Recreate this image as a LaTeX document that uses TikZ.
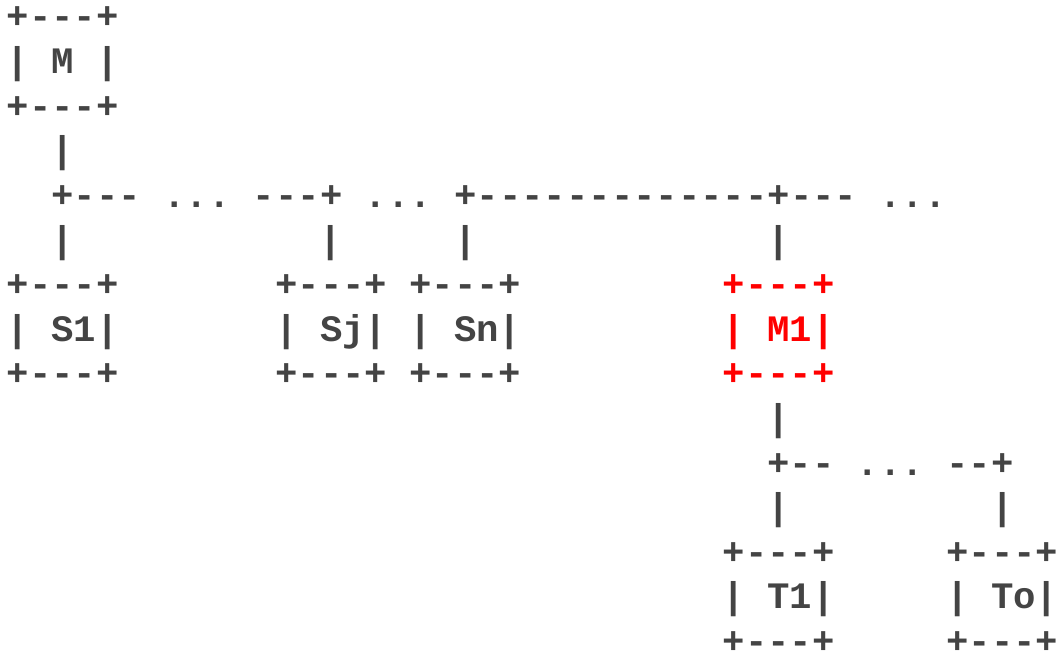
\documentclass[tikz,border=0pt]{standalone}
\usepackage{fontspec}
\setmonofont{Liberation Mono}
\definecolor{asciigray}{HTML}{444444}
\newcommand{\asc}{\ttfamily\bfseries\fontsize{37.3pt}{44.6pt}\selectfont\frenchspacing}
\tikzset{
  txt/.style={anchor=base west, inner sep=0pt, outer sep=0pt, font=\asc, text=asciigray},
  hot/.style={txt, text=red}
}
\begin{document}
\begin{tikzpicture}[x=22.37pt, y=-44.6pt]
\useasboundingbox (0pt,0pt) rectangle (1059pt,-655pt);
\begin{scope}[shift={(6.8pt,-29pt)}]
% top box M
\node[txt] (Mt) at (0,0) {+---+};
\node[txt] (Mm) at (0,1) {| M |};
\node[txt] (Mb) at (0,2) {+---+};
\node[txt] (v1) at (2,3) {|};
% first bus
\node[txt] (bus1) at (2,4) {+--- ... ---+ ... +-------------+--- ...};
\node[txt] (vS1) at (2,5) {|};
\node[txt] (vSj) at (14,5) {|};
\node[txt] (vSn) at (20,5) {|};
\node[txt] (vM1) at (34,5) {|};
% S1
\node[txt] (S1t) at (0,6) {+---+};
\node[txt] (S1m) at (0,7) {| S1|};
\node[txt] (S1b) at (0,8) {+---+};
% Sj
\node[txt] (Sjt) at (12,6) {+---+};
\node[txt] (Sjm) at (12,7) {| Sj|};
\node[txt] (Sjb) at (12,8) {+---+};
% Sn
\node[txt] (Snt) at (18,6) {+---+};
\node[txt] (Snm) at (18,7) {| Sn|};
\node[txt] (Snb) at (18,8) {+---+};
% M1 (highlighted)
\node[hot] (M1t) at (32,6) {+---+};
\node[hot] (M1m) at (32,7) {| M1|};
\node[hot] (M1b) at (32,8) {+---+};
% second bus
\node[txt] (v2) at (34,9) {|};
\node[txt] (bus2) at (34,10) {+-- ... --+};
\node[txt] (vT1) at (34,11) {|};
\node[txt] (vTo) at (44,11) {|};
% T1
\node[txt] (T1t) at (32,12) {+---+};
\node[txt] (T1m) at (32,13) {| T1|};
\node[txt] (T1b) at (32,14) {+---+};
% To
\node[txt] (Tot) at (42,12) {+---+};
\node[txt] (Tom) at (42,13) {| To|};
\node[txt] (Tob) at (42,14) {+---+};
\end{scope}
\end{tikzpicture}
\end{document}
